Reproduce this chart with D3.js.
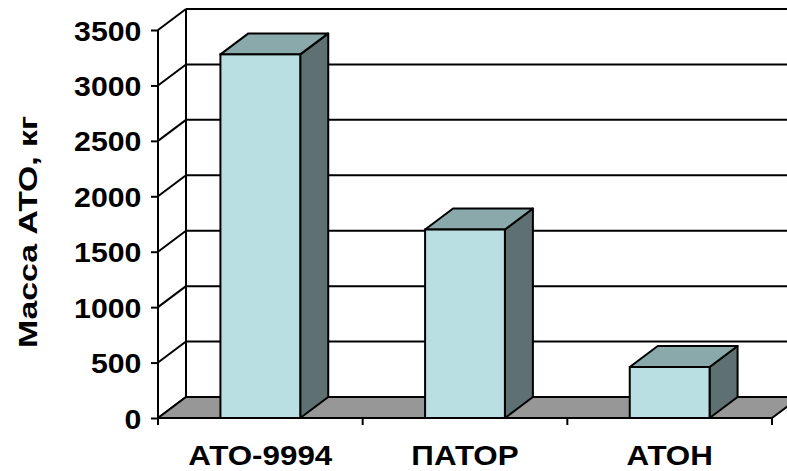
<!DOCTYPE html>
<html>
<head>
<meta charset="utf-8">
<script src="https://cdn.jsdelivr.net/npm/d3@7/dist/d3.min.js"></script>
<style>
  html, body { margin: 0; padding: 0; background: #fff; }
  svg { display: block; }
  text { font-family: "Liberation Sans", Arial, sans-serif; font-weight: bold; fill: #000; }
</style>
</head>
<body>
<svg id="chart" width="787" height="471"></svg>
<script>
// Chart data
const categories = ["АТО-9994", "ПАТОР", "АТОН"];
const values = [3280, 1700, 460];
const yTicks = [0, 500, 1000, 1500, 2000, 2500, 3000, 3500];
const yTitle = "Масса АТО, кг";

const W = 787, H = 471;
const svg = d3.select("#chart");

// Front plane of the 3D box and the depth offset to the back wall
const front = { left: 158, right: 772, bottom: 418, top: 30 };
const depth = { dx: 28, dy: -21 };

const y = d3.scaleLinear().domain([0, 3500]).range([front.bottom, front.top]);
const x = d3.scaleBand().domain(categories)
  .range([front.left, front.right])
  .paddingInner(0.61).paddingOuter(0.305);

const colors = {
  face: "#b9dfe2",
  top: "#8aa9aa",
  side: "#5e7071",
  floor: "#979797",
  line: "#000"
};
const lw = 2;

const poly = pts => pts.map(p => p.join(",")).join(" ");

const g = svg.append("g");

// Back wall
const bx0 = front.left + depth.dx, bx1 = W + 60;
g.append("rect")
  .attr("x", bx0).attr("y", y(3500) + depth.dy)
  .attr("width", bx1 - bx0).attr("height", y(0) - y(3500))
  .attr("fill", "#fff");

// Back wall gridlines
g.selectAll("line.grid").data(yTicks).join("line")
  .attr("class", "grid")
  .attr("x1", bx0).attr("x2", bx1)
  .attr("y1", d => y(d) + depth.dy).attr("y2", d => y(d) + depth.dy)
  .attr("stroke", colors.line).attr("stroke-width", lw);

// Back wall left edge
g.append("line")
  .attr("x1", bx0).attr("x2", bx0)
  .attr("y1", y(3500) + depth.dy).attr("y2", y(0) + depth.dy)
  .attr("stroke", colors.line).attr("stroke-width", lw);

// Side wall diagonals
g.selectAll("line.diag").data(yTicks).join("line")
  .attr("class", "diag")
  .attr("x1", front.left).attr("y1", d => y(d))
  .attr("x2", bx0).attr("y2", d => y(d) + depth.dy)
  .attr("stroke", colors.line).attr("stroke-width", lw);

// Floor
g.append("polygon")
  .attr("points", poly([
    [front.left, y(0)], [front.right, y(0)],
    [front.right + depth.dx, y(0) + depth.dy], [bx0, y(0) + depth.dy]
  ]))
  .attr("fill", colors.floor);
g.append("polyline")
  .attr("points", poly([
    [bx1, y(0) + depth.dy], [bx0, y(0) + depth.dy], [front.left, y(0)],
    [front.right, y(0)], [front.right + depth.dx, y(0) + depth.dy]
  ]))
  .attr("fill", "none").attr("stroke", colors.line).attr("stroke-width", lw)
  .attr("stroke-linejoin", "round");

// 3D columns
const bars = g.selectAll("g.bar").data(categories.map((c, i) => ({ c, v: values[i] })))
  .join("g").attr("class", "bar");

bars.append("polygon") // right side
  .attr("points", d => {
    const xr = x(d.c) + x.bandwidth();
    return poly([[xr, y(0)], [xr + depth.dx, y(0) + depth.dy],
                 [xr + depth.dx, y(d.v) + depth.dy], [xr, y(d.v)]]);
  })
  .attr("fill", colors.side).attr("stroke", colors.line).attr("stroke-width", lw)
  .attr("stroke-linejoin", "round");

bars.append("polygon") // top
  .attr("points", d => {
    const xl = x(d.c), xr = xl + x.bandwidth();
    return poly([[xl, y(d.v)], [xl + depth.dx, y(d.v) + depth.dy],
                 [xr + depth.dx, y(d.v) + depth.dy], [xr, y(d.v)]]);
  })
  .attr("fill", colors.top).attr("stroke", colors.line).attr("stroke-width", lw)
  .attr("stroke-linejoin", "round");

bars.append("rect") // front face
  .attr("x", d => x(d.c)).attr("y", d => y(d.v))
  .attr("width", x.bandwidth()).attr("height", d => y(0) - y(d.v))
  .attr("fill", colors.face).attr("stroke", colors.line).attr("stroke-width", lw);

// Front value axis
const yAxis = d3.axisLeft(y).tickValues(yTicks).tickSize(7).tickPadding(12).tickFormat(d3.format("d"));
const ya = svg.append("g").attr("transform", `translate(${front.left},0)`).call(yAxis);
ya.select(".domain").attr("stroke", colors.line).attr("stroke-width", lw)
  .attr("d", `M0,${y(3500)}V${y(0)}`);
ya.selectAll(".tick line").attr("stroke", colors.line).attr("stroke-width", lw);
ya.selectAll(".tick text")
  .attr("font-size", 28).attr("font-family", null)
  .attr("dy", "0.36em")
  .attr("transform", "scale(1.08,1)")
  .attr("x", -18 / 1.08)
  .style("transform-box", "fill-box")
  .style("transform-origin", "right center");

// Category axis tick marks at band boundaries
const boundaries = [front.left, ...categories.map(c => x(c) - x.step() * x.paddingInner() / 2).slice(1), front.right];
svg.selectAll("line.xtick").data(boundaries).join("line")
  .attr("class", "xtick")
  .attr("x1", d => d).attr("x2", d => d)
  .attr("y1", y(0)).attr("y2", y(0) + 7)
  .attr("stroke", colors.line).attr("stroke-width", lw);

// Category labels
svg.selectAll("text.cat").data(categories).join("text")
  .attr("class", "cat")
  .attr("x", d => x(d) + x.bandwidth() / 2)
  .attr("y", 465)
  .attr("text-anchor", "middle")
  .attr("font-size", 28)
  .style("transform-box", "fill-box")
  .style("transform-origin", "center")
  .style("transform", "scaleX(1.12)")
  .text(d => d);

// Value axis title
svg.append("text")
  .attr("transform", `translate(37,232) rotate(-90) scale(1.3,1)`)
  .attr("text-anchor", "middle")
  .attr("font-size", 26)
  .text(yTitle);
</script>
</body>
</html>
